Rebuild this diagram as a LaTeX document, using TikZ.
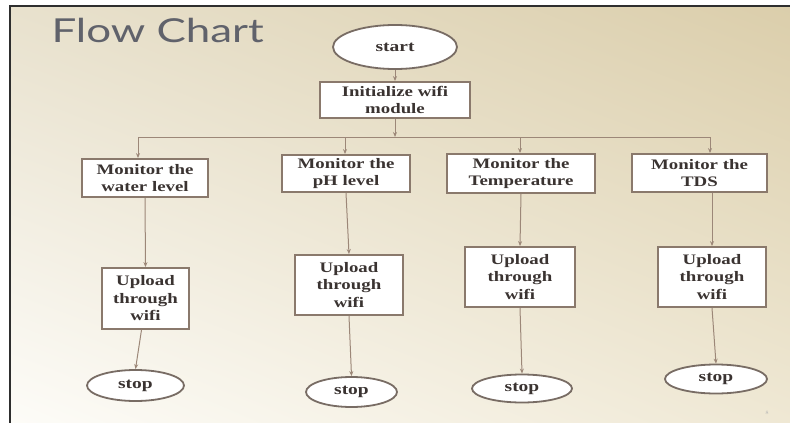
\documentclass[tikz,border=0pt]{standalone}
\usepackage{fontspec}
\usetikzlibrary{shapes.geometric,arrows.meta,shadings}
\newfontfamily\boxfont[FakeStretch=1.3]{Liberation Serif}
\newfontfamily\titlefont[FakeStretch=1.33]{Lato}
\definecolor{bgUL}{HTML}{E8E1CD}
\definecolor{bgUR}{HTML}{DBCEAB}
\definecolor{bgLL}{HTML}{FDFCF8}
\definecolor{bgLR}{HTML}{EFE8D4}
\definecolor{framec}{HTML}{2E2E2E}
\definecolor{boxc}{HTML}{8A796C}
\definecolor{ovalc}{HTML}{786C64}
\definecolor{arrc}{HTML}{9C8778}
\definecolor{txtc}{HTML}{3A3331}
\definecolor{titlec}{HTML}{60626B}
\begin{document}
\begin{tikzpicture}[x=1pt,y=-1pt,
  stepbox/.style={draw=boxc, line width=1.8pt, fill=white, align=center, inner sep=0pt,
    text=txtc, font=\boxfont\bfseries\fontsize{14.5}{17.5}\selectfont},
  oval/.style={ellipse, draw=ovalc, line width=1.8pt, fill=white, inner sep=0pt,
    text=txtc, font=\boxfont\bfseries\fontsize{15}{17}\selectfont},
  arr/.style={draw=arrc, line width=1pt, -{Stealth[length=5pt,width=4pt]}},
  plainline/.style={draw=arrc, line width=1pt}]
\useasboundingbox (0,0) rectangle (790,423);
\fill[white] (0,0) rectangle (790,423);
\shade[upper left=bgUL, upper right=bgUR, lower left=bgLL, lower right=bgLR] (10,5) rectangle (790,423);
\draw[framec, line width=2pt] (10,423) -- (10,5.5) -- (790,5.5);

\node[text=titlec, font=\titlefont\fontsize{33}{36}\selectfont, anchor=base west] (title) at (48,42) {Flow Chart};

\node[oval, minimum width=124pt, minimum height=44pt] (start) at (395,47) {start};
\node[stepbox, minimum width=150pt, minimum height=36pt] (init) at (395,100) {Initialize wifi\\module};

\coordinate (hub) at (395,137);
\coordinate (d1) at (138,137);
\coordinate (d2) at (345,137);
\coordinate (d3) at (520,137);
\coordinate (d4) at (710,137);

\node[stepbox, minimum width=126pt, minimum height=38pt] (m1) at (145,178) {Monitor the\\water level};
\node[stepbox, minimum width=128pt, minimum height=37pt] (m2) at (346,173.5) {Monitor the\\pH level};
\node[stepbox, minimum width=148pt, minimum height=39pt] (m3) at (521,173.5) {Monitor the\\Temperature};
\node[stepbox, minimum width=135pt, minimum height=38pt] (m4) at (699.5,173) {Monitor the\\TDS};

\node[stepbox, minimum width=87pt, minimum height=61pt] (u1) at (145.5,298.5) {Upload\\through\\wifi};
\node[stepbox, minimum width=108pt, minimum height=60pt] (u2) at (349,285) {Upload\\through\\wifi};
\node[stepbox, minimum width=110pt, minimum height=60pt] (u3) at (520,277) {Upload\\through\\wifi};
\node[stepbox, minimum width=108pt, minimum height=60pt] (u4) at (712,277) {Upload\\through\\wifi};

\node[oval, minimum width=97pt, minimum height=31pt] (s1) at (135.5,385.5) {stop};
\node[oval, minimum width=91pt, minimum height=30pt] (s2) at (351.5,392) {stop};
\node[oval, minimum width=100pt, minimum height=28pt] (s3) at (522,388.5) {stop};
\node[oval, minimum width=102pt, minimum height=29pt] (s4) at (716,379) {stop};

\node[text=gray!60, font=\fontsize{5}{6}\selectfont] (pg) at (767,413) {8};

\draw[arr] (start) -- (init);
\draw[arr] (init) -- (hub);
\draw[plainline] (d1) -- (d4);
\draw[arr] (d1) -- (d1 |- m1.north);
\draw[arr] (d2) -- (d2 |- m2.north);
\draw[arr] (d3) -- (d3 |- m3.north);
\draw[arr] (d4) -- (d4 |- m4.north);

\draw[arr] (m1.south) -- (u1.north);
\draw[arr] (m2.south) -- (u2.north);
\draw[arr] (m3.south) -- (u3.north);
\draw[arr] (u4.north |- m4.south) -- (u4.north);

\draw[arr] ([xshift=-4pt]u1.south) -- (s1.north);
\draw[arr] (u2.south) -- (s2.north);
\draw[arr] (u3.south) -- (s3.north);
\draw[arr] (u4.south) -- (s4.north);
\end{tikzpicture}
\end{document}
